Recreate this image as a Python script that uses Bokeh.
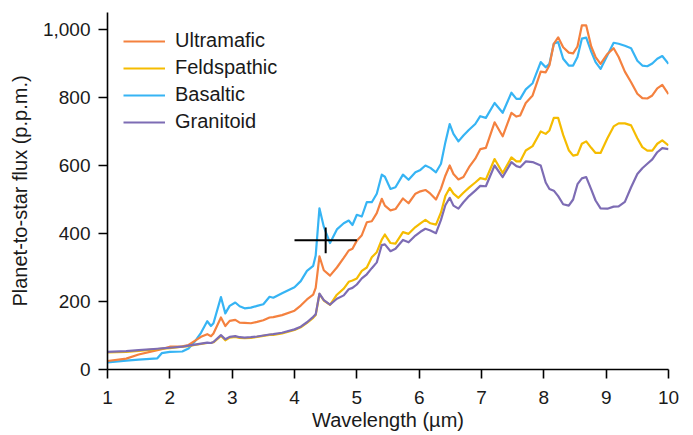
from bokeh.plotting import figure
from bokeh.models import Range1d, FixedTicker, NumeralTickFormatter, ColumnDataSource, Legend, LegendItem
from bokeh.embed import file_html
from bokeh.resources import INLINE

wavelength = [1.0, 1.3, 1.5, 1.8, 1.87, 2.0, 2.2, 2.3, 2.4, 2.5, 2.6, 2.66, 2.7, 2.82, 2.89, 2.96,
              3.05, 3.12, 3.2, 3.3, 3.4, 3.5, 3.6, 3.66, 3.8, 4.0, 4.1, 4.2, 4.3, 4.34, 4.4, 4.47,
              4.57, 4.68, 4.79, 4.87, 4.93, 5.0, 5.08, 5.16, 5.24, 5.32, 5.4, 5.45, 5.54, 5.62,
              5.74, 5.83, 5.94, 6.02, 6.1, 6.18, 6.27, 6.35, 6.42, 6.49, 6.55, 6.63, 6.71, 6.8,
              6.9, 6.98, 7.07, 7.21, 7.34, 7.48, 7.56, 7.62, 7.71, 7.82, 7.95, 8.03, 8.09, 8.16,
              8.23, 8.31, 8.4, 8.47, 8.54, 8.61, 8.68, 8.76, 8.83, 8.91, 9.02, 9.12, 9.2, 9.3,
              9.4, 9.5, 9.58, 9.66, 9.74, 9.82, 9.9, 10.0]

basaltic = [21, 26, 29, 33, 48, 52, 53, 62, 82, 108, 142, 128, 136, 213, 165, 187,
            197, 186, 180, 182, 187, 192, 214, 211, 224, 242, 260, 290, 305, 335, 474, 420,
            372, 412, 430, 438, 425, 455, 450, 492, 492, 517, 573, 567, 531, 536,
            573, 558, 580, 587, 600, 593, 580, 605, 668, 722, 693, 671, 688, 705,
            722, 745, 740, 784, 755, 814, 796, 796, 824, 842, 904, 889, 899, 958,
            963, 914, 894, 894, 919, 973, 976, 935, 904, 884, 924, 961, 958, 952,
            945, 908, 894, 892, 900, 914, 922, 899]

ultramafic = [25, 32, 44, 57, 60, 67, 68, 72, 84, 96, 104, 98, 106, 153, 128, 143,
              146, 138, 137, 136, 140, 145, 153, 154, 160, 173, 188, 206, 220, 240, 333, 292,
              276, 300, 328, 350, 355, 379, 395, 433, 436, 460, 502, 482, 468, 472,
              503, 489, 517, 524, 528, 517, 500, 532, 570, 600, 575, 559, 566, 595,
              620, 648, 652, 727, 686, 755, 744, 747, 784, 806, 876, 874, 895, 958,
              977, 948, 932, 930, 950, 1012, 1012, 950, 919, 899, 928, 945, 919, 876,
              845, 811, 798, 797, 806, 827, 837, 810]

feldspathic = [50, 52, 55, 60, 61, 63, 67, 69, 72, 75, 78, 78, 80, 99, 86, 94,
               96, 93, 92, 93, 96, 99, 102, 102, 106, 116, 124, 137, 152, 160, 222, 203,
               190, 220, 238, 258, 262, 268, 290, 300, 330, 345, 382, 397, 372, 370,
               404, 399, 419, 430, 440, 430, 426, 462, 510, 534, 517, 505, 520, 535,
               550, 563, 559, 619, 578, 624, 612, 612, 644, 657, 700, 693, 703, 740,
               740, 690, 645, 629, 632, 664, 671, 652, 637, 637, 680, 715, 724, 724,
               718, 680, 654, 644, 644, 664, 674, 659]

granitoid = [52, 54, 57, 61, 62, 64, 67, 70, 73, 76, 79, 78, 81, 101, 89, 96,
             98, 95, 94, 95, 97, 100, 103, 104, 108, 118, 126, 139, 155, 162, 223, 204,
             191, 208, 218, 236, 240, 250, 268, 280, 298, 315, 366, 368, 348, 355,
             381, 374, 394, 405, 414, 409, 401, 440, 483, 505, 482, 473, 492, 510,
             526, 540, 539, 600, 566, 610, 598, 595, 612, 610, 600, 550, 531, 526,
             510, 486, 482, 500, 545, 562, 566, 530, 497, 474, 473, 479, 480, 493,
             536, 575, 592, 605, 618, 639, 651, 648]

series_names = ["Ultramafic", "Feldspathic", "Basaltic", "Granitoid"]
series_colors = ["#F4813F", "#F5BC00", "#36B4F4", "#7D6CB4"]

obs_x = [4.5]
obs_y = [380]
obs_xerr = [0.5]
obs_yerr = [38]

x_ticks = [1, 2, 3, 4, 5, 6, 7, 8, 9, 10]
y_ticks = [0, 200, 400, 600, 800, 1000]

FONT = "Liberation Sans"

p = figure(width=693, height=435, output_backend="svg", toolbar_location=None,
           x_range=Range1d(1, 10), y_range=Range1d(0, 1050),
           min_border_left=107, min_border_right=25, min_border_top=12, min_border_bottom=66)
p.outline_line_color = None
p.grid.visible = False
p.background_fill_color = "white"
p.border_fill_color = "white"

src = ColumnDataSource(dict(x=wavelength, Ultramafic=ultramafic, Feldspathic=feldspathic,
                            Basaltic=basaltic, Granitoid=granitoid))
draw_order = ["Basaltic", "Ultramafic", "Feldspathic", "Granitoid"]
renderers = {}
for name in draw_order:
    c = series_colors[series_names.index(name)]
    renderers[name] = p.line("x", name, source=src, line_color=c, line_width=2.2,
                             line_join="round")

legend = Legend(items=[LegendItem(label=n, renderers=[renderers[n]]) for n in series_names])
legend.location = (16, 236)
legend.border_line_color = None
legend.background_fill_alpha = 0
legend.label_text_font = FONT
legend.label_text_font_size = "20px"
legend.label_text_color = "#1a1a1a"
legend.glyph_width = 42
legend.glyph_height = 22
legend.label_height = 22
legend.spacing = 4
legend.label_standoff = 10
legend.margin = 0
legend.padding = 0
p.add_layout(legend, "center")

ex0 = [x - e for x, e in zip(obs_x, obs_xerr)]
ex1 = [x + e for x, e in zip(obs_x, obs_xerr)]
ey0 = [y - e for y, e in zip(obs_y, obs_yerr)]
ey1 = [y + e for y, e in zip(obs_y, obs_yerr)]
p.segment(x0=ex0, y0=obs_y, x1=ex1, y1=obs_y, line_color="black", line_width=2)
p.segment(x0=obs_x, y0=ey0, x1=obs_x, y1=ey1, line_color="black", line_width=2)

for ax in (p.xaxis[0], p.yaxis[0]):
    ax.axis_line_width = 1.6
    ax.axis_line_color = "black"
    ax.major_tick_line_color = "black"
    ax.major_tick_line_width = 1.6
    ax.major_tick_out = 9
    ax.major_tick_in = 0
    ax.minor_tick_line_color = None
    ax.major_label_text_font = FONT
    ax.major_label_text_font_size = "19px"
    ax.major_label_text_color = "#1a1a1a"
    ax.axis_label_text_font = FONT
    ax.axis_label_text_font_size = "20px"
    ax.axis_label_text_font_style = "normal"
    ax.axis_label_text_color = "#1a1a1a"

p.xaxis[0].ticker = FixedTicker(ticks=x_ticks)
p.yaxis[0].ticker = FixedTicker(ticks=y_ticks)
p.yaxis[0].formatter = NumeralTickFormatter(format="0,0")
p.xaxis[0].axis_label = "Wavelength (µm)"
p.yaxis[0].axis_label = "Planet-to-star flux (p.p.m.)"
p.xaxis[0].major_label_standoff = 12
p.xaxis[0].axis_label_standoff = 2
p.yaxis[0].major_label_standoff = 8
p.yaxis[0].axis_label_standoff = 9

open("out.html", "w").write(file_html(p, INLINE))
